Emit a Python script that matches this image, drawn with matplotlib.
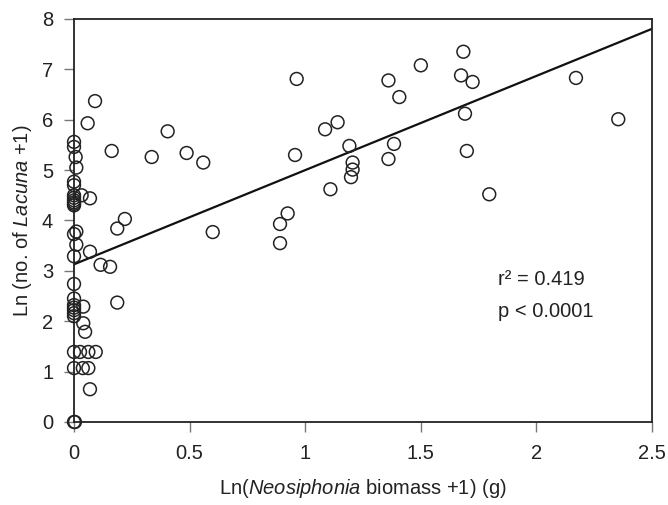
import numpy as np
import matplotlib
matplotlib.use("Agg")
import matplotlib.pyplot as plt

# font settings
plt.rcParams["font.family"] = ["Liberation Sans", "DejaVu Sans"]
plt.rcParams["mathtext.fontset"] = "custom"
plt.rcParams["mathtext.rm"] = "Liberation Sans"
plt.rcParams["mathtext.it"] = "Liberation Sans:italic"

# ── data ──────────────────────────────────────────────────────────────────────
# points on / near x = 0
x_low = [0, 0, 0.007, 0.01, 0, 0, 0, 0, 0, 0, 0, 0,
         0.01, 0, 0.01, 0, 0, 0, 0, 0, 0, 0, 0, 0, 0, 0, 0.004]
y_low = [5.56, 5.46, 5.26, 5.05, 4.77, 4.70, 4.50, 4.45, 4.40, 4.36, 4.33, 4.30,
         3.78, 3.73, 3.52, 3.29, 2.74, 2.45, 2.32, 2.27, 2.22, 2.16, 2.10, 1.39, 1.07, 0, 0]

x_near = [0.033, 0.069, 0.091, 0.059, 0.069, 0.115, 0.156, 0.04, 0.04, 0.048,
          0.026, 0.062, 0.094, 0.038, 0.062, 0.069, 0.187, 0.163, 0.187, 0.22]
y_near = [4.50, 4.44, 6.37, 5.93, 3.38, 3.12, 3.08, 2.29, 1.96, 1.79,
          1.39, 1.39, 1.39, 1.07, 1.07, 0.65, 2.37, 5.38, 3.84, 4.03]

x_mid = [0.336, 0.405, 0.487, 0.559, 0.60, 0.891, 0.924, 0.891, 0.956, 0.963,
         1.086, 1.14, 1.191, 1.205, 1.205, 1.198, 1.109, 1.36, 1.407, 1.384,
         1.36, 1.50, 1.684, 1.674, 1.724, 1.691, 1.699, 1.796, 2.171, 2.354]
y_mid = [5.26, 5.77, 5.34, 5.15, 3.77, 3.93, 4.14, 3.55, 5.30, 6.81,
         5.81, 5.95, 5.48, 5.15, 5.01, 4.86, 4.62, 6.78, 6.45, 5.52,
         5.22, 7.08, 7.35, 6.88, 6.75, 6.12, 5.38, 4.52, 6.83, 6.01]

x_all = np.array(x_low + x_near + x_mid)
y_all = np.array(y_low + y_near + y_mid)

# regression line
intercept = 3.13
slope = 1.87
r2_text = "r\u00b2 = 0.419"
p_text = "p < 0.0001"

x_ticks = [0, 0.5, 1, 1.5, 2, 2.5]
x_ticklabels = ["0", "0.5", "1", "1.5", "2", "2.5"]
y_ticks = [0, 1, 2, 3, 4, 5, 6, 7, 8]

# ── plot ─────────────────────────────────────────────────────────────────────
fig = plt.figure(figsize=(6.68, 5.05), dpi=100)
ax = fig.add_axes([0.1108, 0.1644, 0.8653, 0.798])

ax.scatter(x_all, y_all, s=85, facecolors="none", edgecolors="#222222",
           linewidths=1.1, clip_on=False, zorder=3)

xl = np.array([0, 2.5])
ax.plot(xl, intercept + slope * xl, color="#111111", linewidth=1.6, zorder=2)

ax.text(1.834, 2.82, r2_text, fontsize=14.5, color="#222222", va="center", ha="left")
ax.text(1.834, 2.19, p_text, fontsize=14.5, color="#222222", va="center", ha="left")

ax.set_xlim(0, 2.5)
ax.set_ylim(0, 8)
ax.set_xticks(x_ticks)
ax.set_xticklabels(x_ticklabels)
ax.set_yticks(y_ticks)

for side in ["left", "bottom", "top", "right"]:
    ax.spines[side].set_color("#222222")
    ax.spines[side].set_linewidth(1.3)

ax.tick_params(axis="both", direction="out", length=7, width=1.0, color="#777777",
               labelsize=14.5, labelcolor="#222222")
ax.tick_params(axis="x", pad=9)
ax.tick_params(axis="y", pad=8)

ax.set_xlabel(r"Ln($\mathit{Neosiphonia}$ biomass +1) (g)", fontsize=14.5,
              color="#222222", labelpad=10)
ax.set_ylabel(r"Ln (no. of $\mathit{Lacuna}$ +1)", fontsize=14.5,
              color="#222222", labelpad=6)

fig.savefig("out.png", dpi=100)
